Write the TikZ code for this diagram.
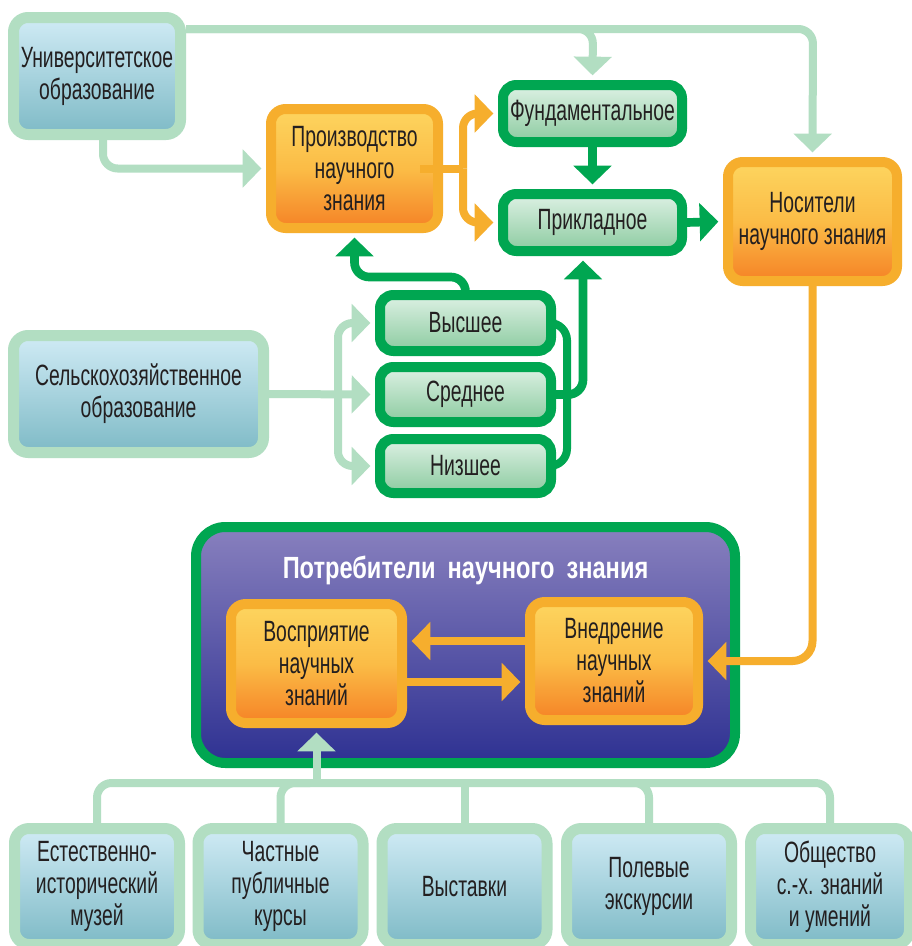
\documentclass[tikz,border=0pt]{standalone}
\usepackage{fontspec}
\setmainfont[FakeStretch=0.66]{Liberation Sans}
\newfontfamily\titlefont[FakeStretch=0.77]{Liberation Sans}
\usetikzlibrary{arrows.meta,calc}
\definecolor{lgr}{RGB}{178,222,194}
\definecolor{gr}{RGB}{0,166,81}
\definecolor{org}{RGB}{246,174,45}
\definecolor{blT}{RGB}{208,235,245}
\definecolor{blB}{RGB}{126,186,198}
\definecolor{gfT}{RGB}{221,241,228}
\definecolor{gfB}{RGB}{140,203,160}
\definecolor{ofT}{RGB}{253,213,95}
\definecolor{ofM}{RGB}{251,188,70}
\definecolor{ofB}{RGB}{245,130,38}
\definecolor{puT}{RGB}{136,128,190}
\definecolor{puB}{RGB}{46,49,146}
\definecolor{txt}{RGB}{35,31,32}
\begin{document}
\begin{tikzpicture}[x=0.75pt,y=-0.75pt,
  every node/.style={font=\fontsize{22}{24}\selectfont, text=txt, align=center, inner sep=0pt},
  sz/.style 2 args={minimum width=#1*0.75pt, minimum height=#2*0.75pt},
  bluebox/.style={draw=lgr, line width=8.25pt, rounded corners=11pt, top color=blT, bottom color=blB},
  greenbox/.style={draw=gr, line width=7.5pt, rounded corners=10pt, top color=gfT, bottom color=gfB},
  orangebox/.style={draw=org, line width=7.5pt, rounded corners=11pt, top color=ofT, bottom color=ofB, middle color=ofM},
  purplebox/.style={draw=gr, line width=7.5pt, rounded corners=22pt, top color=puT, bottom color=puB},
  tip/.style={-{Triangle[width=28pt,length=14pt]}, shorten >=3.5pt},
  lgline/.style={draw=lgr, line width=6pt},
  lgarrow/.style={lgline, tip},
  orline/.style={draw=org, line width=6pt},
  orarrow/.style={orline, tip},
  grline/.style={draw=gr, line width=6pt},
  grarrow/.style={draw=gr, line width=6.5pt, tip},
  conn/.style={rounded corners=11pt}
]
\useasboundingbox (0,0) rectangle (912,946);
\fill[white] (0,0) rectangle (912,946);

% nodes
\node[bluebox, sz={167}{117}] (U) at (97,76) {Университетское\\образование};
\node[orangebox, sz={167}{119}] (P) at (354.5,168.5) {Производство\\научного\\знания};
\node[greenbox, sz={179}{57}] (F) at (592.5,113.5) {Фундаментальное};
\node[greenbox, sz={179}{57}] (A) at (592.5,222.5) {Прикладное};
\node[orangebox, sz={169}{119}] (N) at (812.5,221.5) {Носители\\научного знания};
\node[bluebox, sz={250}{117}] (S) at (138.5,394) {Сельскохозяйственное\\образование};
\node[greenbox, sz={171}{56}] (V) at (465.5,323) {Высшее};
\node[greenbox, sz={171}{55}] (Sr) at (465.5,394.5) {Среднее};
\node[greenbox, sz={171}{54}] (Nz) at (465.5,466) {Низшее};
\node[purplebox, sz={539}{236}] (C) at (465.5,645) {};
\node[text=white, font=\titlefont\fontsize{23}{24}\selectfont\bfseries] (T) at (465.5,570) {Потребители\hspace{9pt}научного\hspace{9pt}знания};
\node[orangebox, sz={171}{119}] (Vo) at (316.5,663.5) {Восприятие\\научных\\знаний};
\node[orangebox, sz={168}{118}] (Vn) at (614,661) {Внедрение\\научных\\знаний};
\node[bluebox, sz={165}{116}] (B1) at (97,886.5) {Естественно-\\исторический\\музей};
\node[bluebox, sz={165}{116}] (B2) at (280.5,886.5) {Частные\\публичные\\курсы};
\node[bluebox, sz={165}{116}] (B3) at (464.5,886.5) {Выставки};
\node[bluebox, sz={165}{116}] (B4) at (649,886.5) {Полевые\\экскурсии};
\node[bluebox, sz={159}{116}] (B5) at (830,886.5) {Общество\\с.-х. знаний\\и умений};

% helper coordinates
\coordinate (t1) at (593,29);
\coordinate (t2) at (813,29);
\coordinate (u1) at (103,170);
\coordinate (oj) at (463,168.5);
\coordinate (h1) at (354.5,277);
\coordinate (sj) at (338,394);
\coordinate (bar1) at (97,783);
\coordinate (bar5) at (830,783);

% top light-green connectors
\draw[lgarrow, conn] (U.east |- t1) -- (t1) -- (F.north);
\draw[lgarrow, conn] (U.east |- t1) -- (t2) -- (N.north);
\draw[lgarrow, conn] (U.south -| u1) |- (P.west);

% orange from production
\draw[orline] ($(P.east)+(-23,0)$) -- (oj);
\draw[orarrow, conn] (oj) |- (F.west);
\draw[orarrow, conn] (oj) |- (A.west);

% green arrows
\draw[grarrow] (F.south) -- (A.north);
\draw[grarrow] (A.east) -- (N.west);
\draw[grarrow, conn] (V.north) |- (h1) -- (P.south);
\draw[grline, rounded corners=13pt] (V.east) -- (567,323) -- (567,466) -- (Nz.east);
\draw[grarrow, conn] (Sr.east) -| ($(A.south)+(-9.5,0)$);

% light green from agricultural education
\draw[lgarrow] (S.east) -- (Sr.west);
\draw[lgarrow, conn] (sj) |- (V.west);
\draw[lgarrow, conn] (sj) |- (Nz.west);

% orange from carriers
\draw[orarrow, rounded corners=15pt] (N.south) |- (Vn.east);
\draw[orarrow] (Vn.west |- 0,641) -- (Vo.east |- 0,641);
\draw[orarrow] (Vo.east |- 0,682) -- (Vn.west |- 0,682);

% bottom tree
\draw[lgline, conn] (B1.north) -- (bar1) -- (bar5) -- (B5.north);
\draw[lgline, conn] (B2.north) -- (B2.north |- bar1) -- (310,783);
\draw[lgline, conn] (B4.north) -- (B4.north |- bar1) -- (620,783);
\draw[lgline] (B3.north) -- (B3.north |- bar1);
\draw[lgarrow] (Vo.south |- bar1) -- (Vo.south);
\end{tikzpicture}
\end{document}
